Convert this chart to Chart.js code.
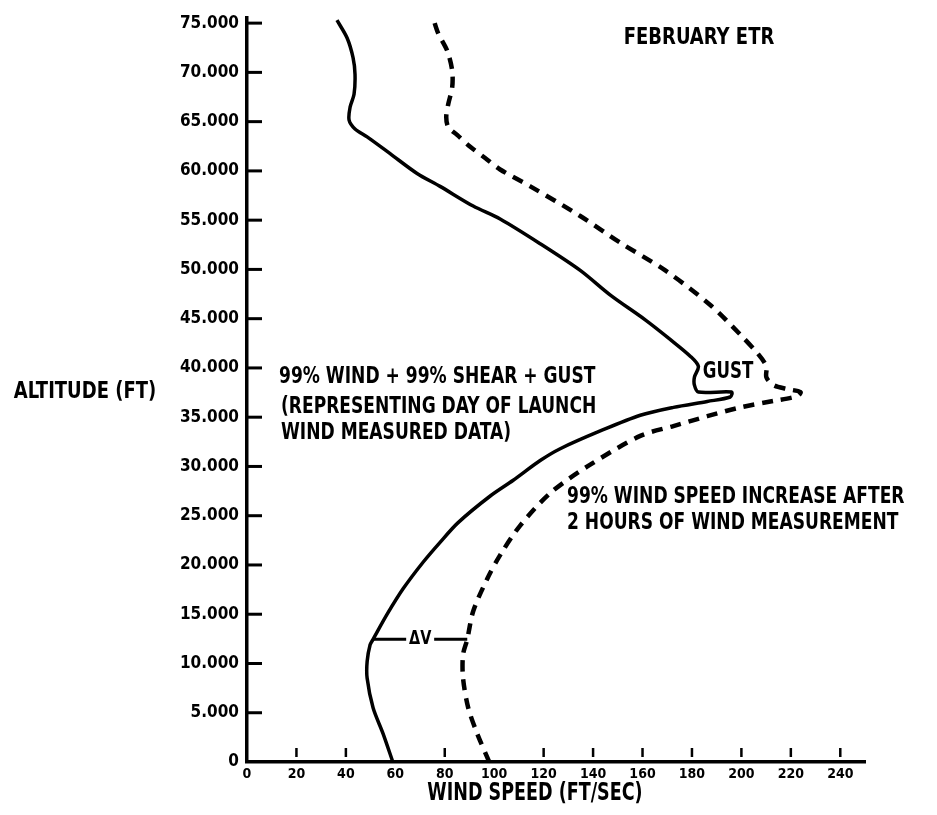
<!DOCTYPE html>
<html>
<head>
<meta charset="utf-8">
<script src="https://cdn.jsdelivr.net/npm/chart.js@4/dist/chart.umd.min.js"></script>
<style>
  html, body { margin: 0; padding: 0; background: #fff; }
  #wrap { width: 937px; height: 815px; position: relative; }
  canvas { display: block; }
</style>
</head>
<body>
<div id="wrap"><canvas id="chart" width="937" height="815"></canvas></div>
<script>
// Wind speed (ft/sec) against altitude (ft), February ETR.

// 99% wind + 99% shear + gust (day-of-launch measured profile), listed bottom to top
const measuredSpeed = [59, 55, 51, 48.6, 48.6, 49.8, 51, 56.7, 63.2, 71.3, 78.1, 85.4, 98.4, 107.7, 118.6, 126.7,
  142.9, 159.1, 172.5, 186.2, 195.5, 196, 182.6, 181, 181, 182.6, 179.4, 171.3, 161.1, 147, 134.8, 118.6,
  102.4, 91.5, 78.1, 68.8, 57.9, 48.6, 43.7, 41.3, 41.7, 43.3, 43.7, 42.9, 40.5, 36.4];
const measuredAlt = [0, 2900, 5500, 8500, 10200, 11900, 12450, 15000, 17600, 20300, 22300, 24300, 27000, 28600, 30600, 31800,
  33600, 35200, 36000, 36600, 37050, 37550, 37550, 38250, 39060, 40160, 41170, 42870, 44880, 47390, 49900, 52610,
  55120, 56430, 58430, 59740, 61750, 63450, 64260, 65160, 66470, 67770, 69780, 71490, 73490, 75300];

// 99% wind speed increase after 2 hours of wind measurement
const increasedSpeed = [98, 93.1, 89.5, 87.4, 87.4, 89.1, 91.5, 97.2, 102.4, 110.5, 122.7, 137.7, 159.1, 172.5, 186.2,
  199.6, 213, 222.7, 223.9, 218.6, 213, 210.1, 210.1, 206.9, 199.6, 187.4, 169.2, 151, 134.8, 114.6, 102.4,
  97.2, 90.3, 85, 81.4, 80.6, 81.4, 83, 83, 81, 77.3, 75.3];
const increasedAlt = [0, 2900, 5500, 8500, 10900, 12450, 15300, 18600, 21000, 24000, 27300, 30000, 33100, 34100, 35100,
  36000, 36650, 37150, 37550, 37850, 38250, 39060, 40160, 41370, 43370, 46390, 49900, 52710, 55420, 58430, 60140,
  61140, 62450, 63650, 64460, 65460, 66770, 68470, 70180, 72190, 73990, 75500];

// Delta-V bracket between the two profiles
const deltaVAlt = 12450;
const deltaVFrom = 51;
const deltaVTo = 89.1;

// Axis ticks
const speedTicks = [0, 20, 40, 60, 80, 100, 120, 140, 160, 180, 200, 220, 240];
const altitudeTicks = [0, 5000, 10000, 15000, 20000, 25000, 30000, 35000, 40000, 45000, 50000, 55000, 60000, 65000, 70000, 75000];

const FONT = "'DejaVu Sans Condensed', 'DejaVu Sans', sans-serif";

const toPoints = (xs, ys) => xs.map((x, i) => ({ x: x, y: ys[i] }));

// Short tick marks that point into the plot area
const inwardTicks = {
  id: 'inwardTicks',
  afterDatasetsDraw(chart) {
    const { ctx, chartArea, scales } = chart;
    ctx.save();
    ctx.strokeStyle = '#000';
    ctx.lineCap = 'butt';
    ctx.lineWidth = 3;
    altitudeTicks.forEach(v => {
      if (v === 0) return;
      const y = scales.y.getPixelForValue(v);
      ctx.beginPath();
      ctx.moveTo(chartArea.left, y);
      ctx.lineTo(chartArea.left + 15, y);
      ctx.stroke();
    });
    ctx.lineWidth = 2.5;
    speedTicks.forEach(v => {
      if (v === 0 || v === 60 || v === 100) return;
      const x = scales.x.getPixelForValue(v);
      ctx.beginPath();
      ctx.moveTo(x, chartArea.bottom - 14);
      ctx.lineTo(x, chartArea.bottom - 5);
      ctx.stroke();
    });
    ctx.restore();
  }
};

// Text notes, the delta-V bracket and the axis titles
const notes = {
  id: 'notes',
  afterDraw(chart) {
    const { ctx, scales } = chart;
    ctx.save();
    ctx.fillStyle = '#000';
    ctx.strokeStyle = '#000';
    ctx.textBaseline = 'middle';

    const put = (text, x, y, size, align, stretch) => {
      ctx.font = 'bold ' + size + 'px ' + FONT;
      ctx.textAlign = align || 'left';
      ctx.save();
      ctx.translate(x, y);
      ctx.scale(1, stretch || 1.25);
      ctx.fillText(text, 0, 0);
      ctx.restore();
    };

    put('FEBRUARY ETR', 699, 38, 20, 'center', 1.15);
    put('ALTITUDE (FT)', 85, 392, 20, 'center', 1.15);
    put('99% WIND + 99% SHEAR + GUST', 279, 377, 19);
    put('(REPRESENTING DAY OF LAUNCH', 281, 407, 19);
    put('WIND MEASURED DATA)', 281, 433, 19);
    put('99% WIND SPEED INCREASE AFTER', 567, 497, 19);
    put('2 HOURS OF WIND MEASUREMENT', 567, 523, 19);
    put('GUST', 728, 372, 18.5, 'center');
    put('WIND SPEED (FT/SEC)', 535, 794, 19.5, 'center');

    // delta-V bracket
    const y = scales.y.getPixelForValue(deltaVAlt);
    const x1 = scales.x.getPixelForValue(deltaVFrom);
    const x2 = scales.x.getPixelForValue(deltaVTo);
    const mid = (x1 + x2) / 2;
    ctx.lineWidth = 3;
    ctx.beginPath();
    ctx.moveTo(x1, y); ctx.lineTo(mid - 14, y);
    ctx.moveTo(mid + 14, y); ctx.lineTo(x2, y);
    ctx.stroke();
    put('\u0394V', mid, y, 16, 'center', 1.2);
    ctx.restore();
  }
};

new Chart(document.getElementById('chart'), {
  type: 'scatter',
  data: {
    datasets: [
      {
        label: '99% wind + 99% shear + gust',
        data: toPoints(measuredSpeed, measuredAlt),
        showLine: true,
        borderColor: '#000',
        borderWidth: 3.5,
        pointRadius: 0,
        tension: 0.3,
        fill: false
      },
      {
        label: '99% wind speed increase after 2 hours',
        data: toPoints(increasedSpeed, increasedAlt),
        showLine: true,
        borderColor: '#000',
        borderWidth: 4.5,
        borderDash: [11, 8],
        pointRadius: 0,
        tension: 0.3,
        fill: false
      }
    ]
  },
  options: {
    responsive: false,
    animation: false,
    layout: { padding: { top: 10, right: 72, bottom: 0, left: 0 } },
    plugins: { legend: { display: false }, tooltip: { enabled: false } },
    scales: {
      x: {
        type: 'linear',
        min: 0,
        max: 250,
        afterFit(scale) { scale.height = 53; },
        grid: { display: false, drawTicks: false },
        border: { display: true, color: '#000', width: 3.5 },
        afterBuildTicks(scale) { scale.ticks = speedTicks.map(v => ({ value: v })); },
        ticks: {
          autoSkip: false,
          maxRotation: 0,
          color: '#000',
          padding: 4,
          font: { family: FONT, size: 14, weight: 'bold' },
          callback: v => String(v)
        }
      },
      y: {
        type: 'linear',
        min: 0,
        max: 75500,
        afterFit(scale) { scale.width = 247; },
        grid: { display: false, drawTicks: false },
        border: { display: true, color: '#000', width: 3.5 },
        afterBuildTicks(scale) { scale.ticks = altitudeTicks.map(v => ({ value: v })); },
        ticks: {
          autoSkip: false,
          color: '#000',
          padding: 8,
          font: { family: FONT, size: 17, weight: 'bold' },
          callback: v => (v === 0 ? '0' : (v / 1000) + '.000')
        }
      }
    }
  },
  plugins: [inwardTicks, notes]
});
</script>
</body>
</html>
